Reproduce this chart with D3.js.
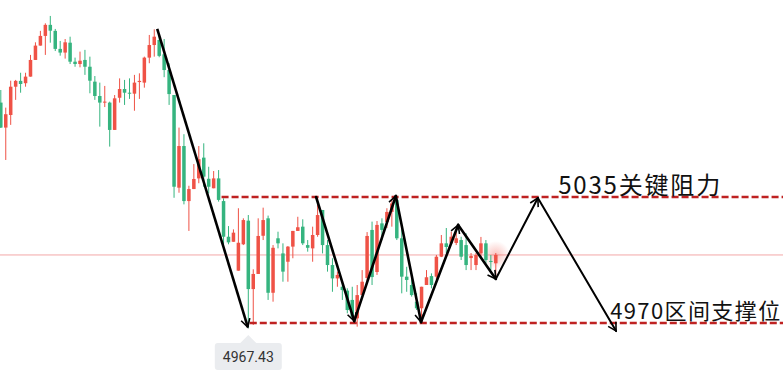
<!DOCTYPE html>
<html>
<head>
<meta charset="utf-8">
<script src="https://cdn.jsdelivr.net/npm/d3@7"></script>
<style>
  html, body { margin: 0; padding: 0; background: #fff; }
  svg { display: block; }
</style>
</head>
<body>
<div class="chart"></div>
<script>
// candle data (prices), one entry per bar
var opens = [5083.7,5070.8,5077.3,5091.9,5094.9,5093.7,5097.1,5105.7,5113.1,5118.1,
  5123.8,5120.7,5111.4,5109.5,5114.6,5104.8,5103.6,5105.7,5102.2,5094.5,
  5087.1,5083.7,5083.7,5069.6,5086.2,5090.7,5088.8,5088.3,5094.3,5094.0,
  5106.9,5113.4,5116.0,5108.6,5100.5,5087.6,5039.8,5061.3,5032.9,5039.1,
  5044.6,5055.3,5044.4,5039.5,5044.6,5032.9,5014.5,5011.9,4997.0,5010.6,
  5022.8,4987.5,4995.3,5015.0,5024.0,4985.6,5013.7,5005.9,5001.6,5009.4,
  5017.5,5019.7,5010.2,5008.5,5015.4,5028.3,5010.2,4999.9,4993.0,4988.7,
  4986.7,4981.9,4972.4,4984.4,4993.2,5018.0,4996.3,5021.4,5022.1,5027.3,
  5033.5,5013.7,4993.9,4989.6,4981.0,4977.6,4989.6,4994.2,4993.9,5004.2,
  5011.1,5011.1,5011.3,5012.8,5010.2,5003.5,4999.9,5005.9,5011.1,5002.0,
  5000.8];
var closes = [5070.8,5077.7,5091.9,5094.9,5093.3,5097.1,5105.7,5113.1,5118.1,5123.8,
  5120.8,5111.4,5109.5,5114.8,5104.8,5103.6,5105.3,5102.2,5095.0,5087.1,
  5083.7,5084.2,5069.6,5085.9,5090.7,5088.8,5088.3,5094.0,5094.9,5106.9,
  5113.4,5117.7,5107.8,5100.5,5088.1,5040.3,5061.3,5032.9,5039.1,5044.3,
  5054.5,5045.5,5040.3,5044.6,5033.5,5014.5,5011.6,5016.6,5011.4,5023.1,
  4987.5,4995.3,5014.9,5023.1,4985.6,5008.8,5011.1,4996.5,5009.4,5017.5,
  5019.4,5011.1,5008.8,5015.4,5025.7,5010.2,4999.9,4993.0,4994.8,4987.0,
  4976.7,4973.2,4984.4,4991.3,5014.9,4993.7,5020.6,5018.0,5027.3,5031.7,
  5013.7,4993.9,4992.2,4984.4,4977.6,4988.7,4993.6,4989.6,5004.2,5011.1,
  5009.2,5014.5,5013.7,5004.2,4999.9,5004.6,5005.1,5011.1,5002.5,5001.5,
  5005.1];
var highs = [5090.2,5081.1,5095.0,5095.4,5099.1,5099.1,5108.3,5114.8,5120.7,5124.6,
  5128.4,5121.7,5115.5,5116.5,5117.7,5106.9,5110.0,5110.9,5107.4,5097.4,
  5094.0,5092.3,5084.2,5087.6,5096.2,5095.4,5096.2,5098.0,5098.8,5107.4,
  5118.6,5121.5,5118.6,5116.5,5104.0,5087.6,5070.8,5067.4,5040.8,5052.0,
  5061.3,5062.7,5050.6,5048.4,5048.9,5034.3,5020.0,5018.3,5029.2,5024.0,
  5025.7,4997.7,5024.0,5029.5,5025.4,5010.2,5017.1,5011.1,5009.7,5017.5,
  5024.8,5023.5,5012.8,5019.7,5030.9,5028.3,5012.8,5003.4,4996.5,4991.3,
  4987.9,4988.7,4989.6,4997.3,5016.9,5022.3,5022.6,5024.0,5029.2,5033.5,
  5036.0,5019.7,4999.0,4994.8,4985.3,4988.7,4997.3,4995.6,5005.1,5015.4,
  5019.0,5017.1,5016.9,5014.5,5016.3,5006.1,5006.1,5014.4,5012.8,5005.1,
  5006.1];
var lows = [5070.6,5054.1,5072.2,5085.1,5088.8,5091.9,5097.1,5105.7,5113.1,5108.3,
  5114.6,5110.3,5107.9,5106.4,5103.6,5102.2,5101.9,5098.0,5088.5,5085.1,
  5071.3,5081.4,5061.0,5069.6,5083.7,5082.5,5085.6,5079.5,5085.6,5091.4,
  5104.0,5107.4,5107.1,5096.8,5082.5,5034.6,5037.2,5031.2,5017.5,5039.1,
  5042.1,5040.3,5036.9,5039.5,5032.6,5008.5,5010.6,5011.9,4997.0,5010.2,
  4967.43,4969.0,4995.3,5012.8,4981.9,4981.0,5008.5,4991.3,4991.3,5003.4,
  5017.5,5010.2,5006.8,5001.6,5014.5,5005.9,4996.5,4986.1,4988.7,4981.9,
  4975.0,4972.4,4968.1,4984.4,4991.1,4989.6,4994.8,5012.8,5019.0,5019.7,
  5012.8,4985.3,4986.1,4983.6,4976.7,4970.7,4989.6,4987.9,4992.2,5004.0,
  5006.1,5010.2,5010.2,5002.5,4997.3,4997.3,4997.3,5004.2,5000.8,4997.3,
  4992.2];

// key levels
var resistance = 5035;
var support = 4970;
var levelLabels = ["5035关键阻力", "4970区间支撑位"];

// hand-drawn arrows: bar index / price
var dropIdx = [31.6, 49.9];
var dropPx = [5121.7, 4967.9];
var zigIdx = [63.7, 71.4, 79.8, 84.9, 92.4, 100.0, 108.5, 124.3];
var zigPx = [5035.0, 4971.0, 5035.5, 4970.5, 5020.6, 4992.7, 5034.5, 4965.9];

var W = 783, H = 374;
var upColor = "#ef5246", downColor = "#35b47f";

var svg = d3.select(".chart").append("svg")
  .attr("width", W)
  .attr("height", H);

var x = d3.scaleLinear().domain([0, 100]).range([0.8, 495.8]);
var y = d3.scaleLinear().domain([support, resistance]).range([323, 197]);

var defs = svg.append("defs");
var glow = defs.append("radialGradient").attr("id", "glow");
glow.append("stop").attr("offset", "0%").attr("stop-color", "rgba(239,82,70,0.35)");
glow.append("stop").attr("offset", "100%").attr("stop-color", "rgba(239,82,70,0)");

defs.append("marker")
  .attr("id", "arr")
  .attr("viewBox", "-10 -6 12 12")
  .attr("refX", 0).attr("refY", 0)
  .attr("markerWidth", 12).attr("markerHeight", 12)
  .attr("markerUnits", "userSpaceOnUse")
  .attr("orient", "auto")
  .append("path")
  .attr("d", "M-8,-4.5L0,0L-8,4.5")
  .attr("fill", "none")
  .attr("stroke", "#000")
  .attr("stroke-width", 1.6);

var data = opens.map(function(o, i){
  return {i: i, o: o, c: closes[i], h: highs[i], l: lows[i]};
});
var last = data[data.length - 1];

// last price line
svg.append("line")
  .attr("x1", 0).attr("x2", W)
  .attr("y1", y(last.c)).attr("y2", y(last.c))
  .attr("stroke", "#f3a7a7")
  .attr("stroke-width", 1);

// glow on the live bar
svg.append("circle")
  .attr("cx", x(last.i)).attr("cy", y(last.c))
  .attr("r", 14)
  .attr("fill", "url(#glow)");

var candles = svg.selectAll(".candle").data(data)
  .enter().append("g").attr("class", "candle");

candles.append("line")
  .attr("x1", function(d){ return x(d.i); })
  .attr("x2", function(d){ return x(d.i); })
  .attr("y1", function(d){ return y(d.h); })
  .attr("y2", function(d){ return y(d.l); })
  .attr("stroke", function(d){ return d.c >= d.o ? upColor : downColor; })
  .attr("stroke-width", 1);

candles.append("rect")
  .attr("x", function(d){ return x(d.i) - 1.75; })
  .attr("width", 3.5)
  .attr("y", function(d){ return y(Math.max(d.o, d.c)); })
  .attr("height", function(d){ return Math.max(1, Math.abs(y(d.o) - y(d.c))); })
  .attr("fill", function(d){ return d.c >= d.o ? upColor : downColor; });

// dashed key levels
svg.append("line")
  .attr("x1", x(44.6)).attr("x2", W)
  .attr("y1", y(resistance)).attr("y2", y(resistance))
  .attr("stroke", "#bf2222").attr("stroke-width", 2.6)
  .attr("stroke-dasharray", "7,3");
svg.append("line")
  .attr("x1", x(50.3)).attr("x2", W)
  .attr("y1", y(support)).attr("y2", y(support))
  .attr("stroke", "#bf2222").attr("stroke-width", 2.6)
  .attr("stroke-dasharray", "7,3");

// arrows
svg.append("line")
  .attr("x1", x(dropIdx[0])).attr("y1", y(dropPx[0]))
  .attr("x2", x(dropIdx[1])).attr("y2", y(dropPx[1]))
  .attr("stroke", "#000").attr("stroke-width", 2.6)
  .attr("marker-end", "url(#arr)");

var segs = d3.range(zigIdx.length - 1);
svg.selectAll(".zig").data(segs)
  .enter().append("line")
  .attr("class", "zig")
  .attr("x1", function(k){ return x(zigIdx[k]); })
  .attr("y1", function(k){ return y(zigPx[k]); })
  .attr("x2", function(k){ return x(zigIdx[k + 1]); })
  .attr("y2", function(k){ return y(zigPx[k + 1]); })
  .attr("stroke", "#000")
  .attr("stroke-width", function(k){ return k >= 5 ? 2 : 2.6; })
  .attr("stroke-linecap", "round")
  .attr("marker-end", "url(#arr)");

// level labels
svg.append("text")
  .attr("x", x(112.6)).attr("y", y(resistance) - 3.5)
  .attr("font-family", "'Noto Sans CJK SC', 'Noto Sans', sans-serif")
  .attr("font-size", 24)
  .attr("fill", "#111")
  .attr("textLength", 162)
  .attr("lengthAdjust", "spacing")
  .text(levelLabels[0]);
svg.append("text")
  .attr("x", x(123.1)).attr("y", y(support) - 4.5)
  .attr("font-family", "'Noto Sans CJK SC', 'Noto Sans', sans-serif")
  .attr("font-size", 22)
  .attr("fill", "#111")
  .attr("textLength", 170)
  .attr("lengthAdjust", "spacing")
  .text(levelLabels[1]);

// low price tag
var minLow = d3.min(lows);
var minI = lows.indexOf(minLow);
var tag = svg.append("g")
  .attr("transform", "translate(" + x(minI) + "," + (y(minLow) + 7) + ")");
tag.append("path")
  .attr("d", "M0,0L-8,8L8,8Z")
  .attr("fill", "#eaecef");
tag.append("rect")
  .attr("x", -33.5).attr("y", 8)
  .attr("width", 67).attr("height", 27)
  .attr("rx", 3)
  .attr("fill", "#eaecef");
tag.append("text")
  .attr("x", 0).attr("y", 27)
  .attr("text-anchor", "middle")
  .attr("font-family", "Roboto, 'Noto Sans', sans-serif")
  .attr("font-size", 14)
  .attr("fill", "#333")
  .text(d3.format(".2f")(minLow));
</script>
</body>
</html>
